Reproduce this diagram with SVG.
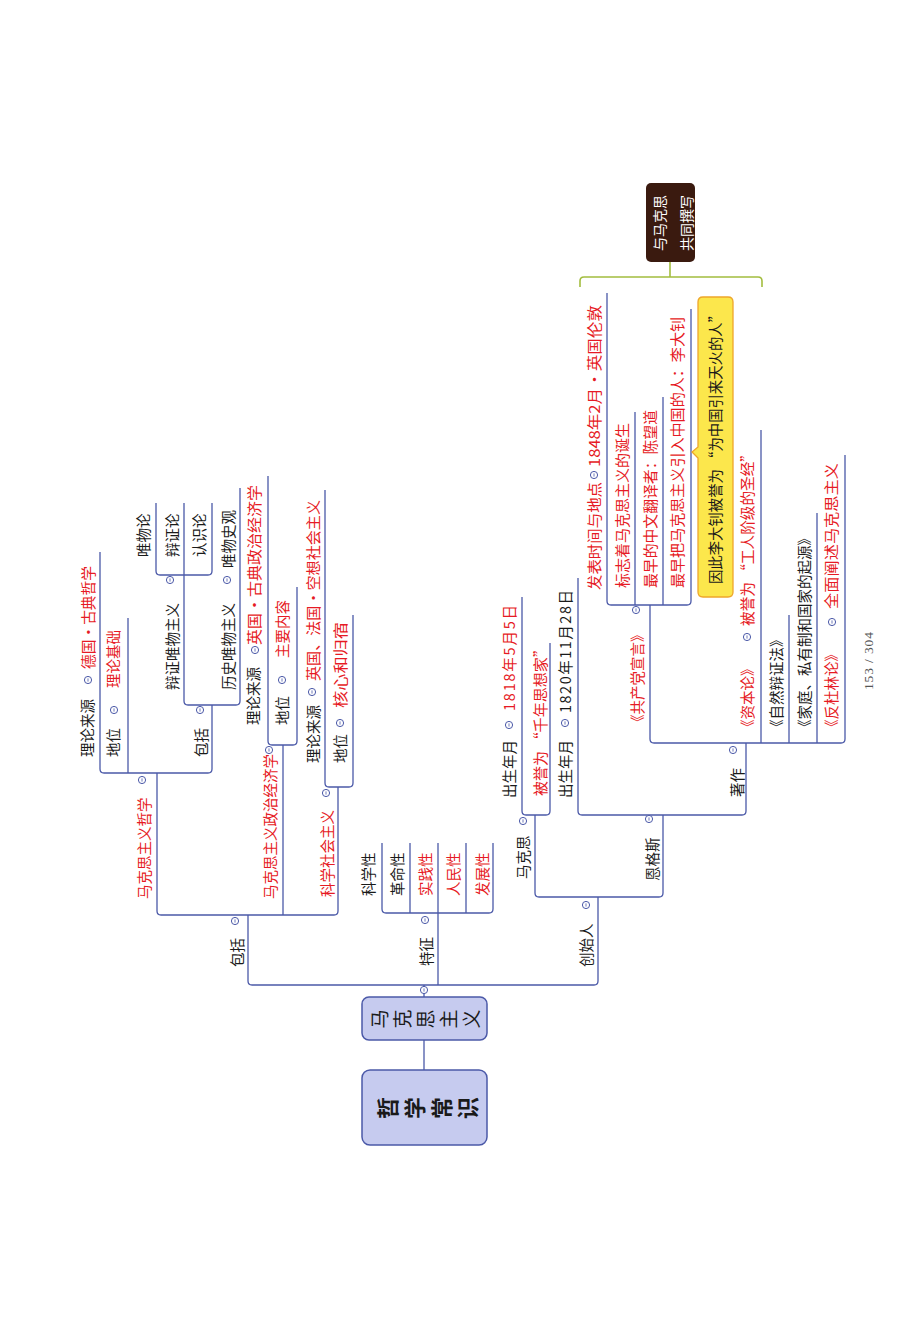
<svg xmlns="http://www.w3.org/2000/svg" xmlns:xlink="http://www.w3.org/1999/xlink" width="920" height="1331" viewBox="0 0 920 1331">
<style>
.t{font-family:"Noto Sans CJK SC","Noto Sans",sans-serif;font-size:14.5px;fill:#1a1a1a}
.r{fill:#e61a24}
.w{fill:#ffffff}
.ln{fill:none;stroke:#4b59a8;stroke-width:1.3}
.box{fill:#c6cbef;stroke:#4b59a8;stroke-width:1.5}
.ch{font-family:"Noto Sans CJK SC","Noto Sans",sans-serif;fill:#1a1a1a}
</style>
<defs>
<g id="cm"><circle r="3.6" fill="#fff" stroke="#4b59a8" stroke-width="1"/><line x1="0" y1="-1.6" x2="0" y2="1.6" stroke="#4b59a8" stroke-width="0.8"/></g>
</defs>
<rect width="920" height="1331" fill="#ffffff"/>

<g id="connectors">
<path class="ln" d="M424,1040 V1070"/>
<path class="ln" d="M424,985 V997"/>
<path class="ln" d="M248,915 V981 Q248,985 252,985 H594 Q598,985 598,981 V897"/>
<path class="ln" d="M438,985 V843"/>
<path class="ln" d="M157,773 V911 Q157,915 161,915 H334 Q338,915 338,911 V787"/>
<path class="ln" d="M283,915 V745"/>
<path class="ln" d="M100,552 V769 Q100,773 104,773 H208 Q212,773 212,769 V705"/>
<path class="ln" d="M128,773 V618"/>
<path class="ln" d="M184,503 V701 Q184,705 188,705 H236 Q240,705 240,701 V488"/>
<path class="ln" d="M156,503 V571 Q156,575 160,575 H208 Q212,575 212,571 V503"/>
<path class="ln" d="M268,476 V741 Q268,745 272,745 H293 Q297,745 297,741 V587"/>
<path class="ln" d="M325,490 V783 Q325,787 329,787 H349 Q353,787 353,783 V615"/>
<path class="ln" d="M382,843 V909 Q382,913 386,913 H489 Q493,913 493,909 V843"/>
<path class="ln" d="M410,913 V843"/>
<path class="ln" d="M466,913 V843"/>
<path class="ln" d="M535,815 V893 Q535,897 539,897 H659 Q663,897 663,893 V815"/>
<path class="ln" d="M522,597 V811 Q522,815 526,815 H546 Q550,815 550,811 V643"/>
<path class="ln" d="M578,578 V811 Q578,815 582,815 H742 Q746,815 746,811 V743"/>
<path class="ln" d="M650,605 V739 Q650,743 654,743 H841 Q845,743 845,739 V455"/>
<path class="ln" d="M761,743 V430"/>
<path class="ln" d="M789,743 V615"/>
<path class="ln" d="M817,743 V513"/>
<path class="ln" d="M607,293 V601 Q607,605 611,605 H687 Q691,605 691,601 V309"/>
<path class="ln" d="M635,605 V412"/>
<path class="ln" d="M663,605 V397"/>
<path d="M580,287 V281 Q580,277 584,277 H758 Q762,277 762,281 V287 M670,277 V262" fill="none" stroke="#a3bd3f" stroke-width="1.6"/>
</g>

<g id="root">
<rect class="box" x="362" y="1070" width="125" height="75" rx="8"/>
<g class="ch" font-size="22" font-weight="bold" text-anchor="middle" dominant-baseline="central">
<text transform="translate(386,1108) rotate(-90)">哲</text>
<text transform="translate(413,1108) rotate(-90)">学</text>
<text transform="translate(440,1108) rotate(-90)">常</text>
<text transform="translate(466,1108) rotate(-90)">识</text>
</g>
</g>

<g id="marxism">
<rect class="box" x="362" y="997" width="125" height="43" rx="7"/>
<g class="ch" font-size="19" text-anchor="middle" dominant-baseline="central">
<text transform="translate(378,1019) rotate(-90)">马</text>
<text transform="translate(401,1019) rotate(-90)">克</text>
<text transform="translate(424,1019) rotate(-90)">思</text>
<text transform="translate(447,1019) rotate(-90)">主</text>
<text transform="translate(470,1019) rotate(-90)">义</text>
</g>
<use xlink:href="#cm" x="424" y="990"/>
</g>

<g id="n-baokuo">
<text class="t" transform="translate(242.5,967) rotate(-90)">包括</text>
<use xlink:href="#cm" x="235" y="921"/>
</g>
<g id="n-zhexue">
<text class="t r" transform="translate(149.5,899) rotate(-90)">马克思主义哲学</text>
<use xlink:href="#cm" x="142" y="780"/>
</g>
<g id="n-zx-source">
<text class="t" transform="translate(92.5,757) rotate(-90)">理论来源</text>
<use xlink:href="#cm" x="88" y="680"/>
<text class="t r" transform="translate(93.5,669) rotate(-90)" textLength="103" lengthAdjust="spacingAndGlyphs">德国•古典哲学</text>
</g>
<g id="n-zx-status">
<text class="t" transform="translate(118.5,757) rotate(-90)">地位</text>
<use xlink:href="#cm" x="114" y="710"/>
<text class="t r" transform="translate(118.5,688) rotate(-90)">理论基础</text>
</g>
<g id="n-zx-include">
<text class="t" transform="translate(206.5,757) rotate(-90)">包括</text>
<use xlink:href="#cm" x="200" y="710"/>
</g>
<g id="n-bianzheng">
<text class="t" transform="translate(177.5,690) rotate(-90)">辩证唯物主义</text>
<use xlink:href="#cm" x="170" y="580"/>
</g>
<g id="n-weiwulun"><text class="t" transform="translate(148.5,557) rotate(-90)">唯物论</text></g>
<g id="n-bianzhenglun"><text class="t" transform="translate(177.5,557) rotate(-90)">辩证论</text></g>
<g id="n-renshilun"><text class="t" transform="translate(204.5,557) rotate(-90)">认识论</text></g>
<g id="n-lishi">
<text class="t" transform="translate(233.5,690) rotate(-90)">历史唯物主义</text>
<use xlink:href="#cm" x="227" y="580"/>
<text class="t" transform="translate(233.5,568) rotate(-90)">唯物史观</text>
</g>
<g id="n-zhengjing">
<text class="t r" transform="translate(275.5,899) rotate(-90)">马克思主义政治经济学</text>
<use xlink:href="#cm" x="269" y="750"/>
</g>
<g id="n-zj-source">
<text class="t" transform="translate(258.5,725) rotate(-90)">理论来源</text>
<use xlink:href="#cm" x="255" y="650"/>
<text class="t r" transform="translate(259.5,645) rotate(-90)" textLength="160" lengthAdjust="spacingAndGlyphs">英国•古典政治经济学</text>
</g>
<g id="n-zj-status">
<text class="t" transform="translate(287.5,725) rotate(-90)">地位</text>
<use xlink:href="#cm" x="282" y="680"/>
<text class="t r" transform="translate(287.5,658) rotate(-90)">主要内容</text>
</g>
<g id="n-kexue">
<text class="t r" transform="translate(332.5,897) rotate(-90)">科学社会主义</text>
<use xlink:href="#cm" x="326" y="793"/>
</g>
<g id="n-kx-source">
<text class="t" transform="translate(318.5,763) rotate(-90)">理论来源</text>
<use xlink:href="#cm" x="312" y="692"/>
<text class="t r" transform="translate(318.5,681) rotate(-90)" textLength="181" lengthAdjust="spacingAndGlyphs">英国、法国•空想社会主义</text>
</g>
<g id="n-kx-status">
<text class="t" transform="translate(345.5,763) rotate(-90)">地位</text>
<use xlink:href="#cm" x="340" y="723"/>
<text class="t r" transform="translate(345.5,708) rotate(-90)" textLength="86" lengthAdjust="spacingAndGlyphs">核心和归宿</text>
</g>

<g id="n-tezheng">
<text class="t" transform="translate(431.5,966) rotate(-90)">特征</text>
<use xlink:href="#cm" x="425" y="920"/>
</g>
<g id="n-kexuexing"><text class="t" transform="translate(373.5,896) rotate(-90)">科学性</text></g>
<g id="n-gemingxing"><text class="t" transform="translate(402.5,896) rotate(-90)">革命性</text></g>
<g id="n-shijianxing"><text class="t r" transform="translate(430.5,896) rotate(-90)">实践性</text></g>
<g id="n-renminxing"><text class="t r" transform="translate(458.5,896) rotate(-90)">人民性</text></g>
<g id="n-fazhanxing"><text class="t r" transform="translate(487.5,896) rotate(-90)">发展性</text></g>

<g id="n-chuangshiren">
<text class="t" transform="translate(591.5,967) rotate(-90)">创始人</text>
<use xlink:href="#cm" x="586" y="905"/>
</g>
<g id="n-marx">
<text class="t" transform="translate(528.5,879) rotate(-90)">马克思</text>
<use xlink:href="#cm" x="523" y="821"/>
</g>
<g id="n-marx-birth">
<text class="t" transform="translate(514.5,798) rotate(-90)">出生年月</text>
<use xlink:href="#cm" x="509" y="725"/>
<text class="t r" transform="translate(514.5,711) rotate(-90)" textLength="106" lengthAdjust="spacing">1818年5月5日</text>
</g>
<g id="n-marx-title">
<text class="t r" transform="translate(545.5,796) rotate(-90)" textLength="154" lengthAdjust="spacingAndGlyphs">被誉为 “千年思想家”</text>
</g>
<g id="n-engels">
<text class="t" transform="translate(657.5,881) rotate(-90)">恩格斯</text>
<use xlink:href="#cm" x="649" y="819"/>
</g>
<g id="n-engels-birth">
<text class="t" transform="translate(570.5,798) rotate(-90)">出生年月</text>
<use xlink:href="#cm" x="565" y="723"/>
<text class="t" transform="translate(570.5,713) rotate(-90)" textLength="123" lengthAdjust="spacing">1820年11月28日</text>
</g>
<g id="n-zhuzuo">
<text class="t" transform="translate(742.5,797) rotate(-90)">著作</text>
<use xlink:href="#cm" x="733" y="750"/>
</g>
<g id="n-manifesto">
<text class="t r" transform="translate(642.5,729) rotate(-90)">《共产党宣言》</text>
<use xlink:href="#cm" x="636" y="610"/>
</g>
<g id="n-mf-time">
<text class="t r" transform="translate(599.5,590) rotate(-90)" textLength="108" lengthAdjust="spacingAndGlyphs">发表时间与地点</text>
<use xlink:href="#cm" x="594" y="475"/>
<text class="t r" transform="translate(599.5,467) rotate(-90)" textLength="162" lengthAdjust="spacingAndGlyphs">1848年2月•英国伦敦</text>
</g>
<g id="n-mf-birth"><text class="t r" transform="translate(627.5,588) rotate(-90)" textLength="165" lengthAdjust="spacingAndGlyphs">标志着马克思主义的诞生</text></g>
<g id="n-mf-translator"><text class="t r" transform="translate(655.5,588) rotate(-90)" textLength="178" lengthAdjust="spacingAndGlyphs">最早的中文翻译者：陈望道</text></g>
<g id="n-mf-lidazhao"><text class="t r" transform="translate(682.5,588) rotate(-90)" textLength="271" lengthAdjust="spacingAndGlyphs">最早把马克思主义引入中国的人：李大钊</text></g>
<g id="n-callout">
<path d="M703,297 H728 Q733,297 733,302 V592 Q733,597 728,597 H703 Q698,597 698,592 V458 L692,452 L698,447 V302 Q698,297 703,297 Z" fill="#fce74c" stroke="#eea62a" stroke-width="1.3"/>
<text class="t" transform="translate(721,584) rotate(-90)" textLength="276" lengthAdjust="spacingAndGlyphs">因此李大钊被誉为 “为中国引来天火的人”</text>
</g>
<g id="n-summary">
<rect x="646" y="183" width="49" height="79" rx="5" fill="#3a1a0f"/>
<g class="ch" font-size="14" text-anchor="middle">
<text class="w" transform="translate(665,223) rotate(-90)">与马克思</text>
<text class="w" transform="translate(692,223) rotate(-90)">共同撰写</text>
</g>
</g>
<g id="n-capital">
<text class="t r" transform="translate(752.5,734) rotate(-90)">《资本论》</text>
<use xlink:href="#cm" x="747" y="637"/>
<text class="t r" transform="translate(752.5,626) rotate(-90)" textLength="179" lengthAdjust="spacingAndGlyphs">被誉为 “工人阶级的圣经”</text>
</g>
<g id="n-nature"><text class="t" transform="translate(781.5,734) rotate(-90)">《自然辩证法》</text></g>
<g id="n-family"><text class="t" transform="translate(809.5,734) rotate(-90)">《家庭、私有制和国家的起源》</text></g>
<g id="n-duhring">
<text class="t r" transform="translate(836.5,734) rotate(-90)">《反杜林论》</text>
<use xlink:href="#cm" x="832" y="622"/>
<text class="t r" transform="translate(836.5,609) rotate(-90)" textLength="146" lengthAdjust="spacingAndGlyphs">全面阐述马克思主义</text>
</g>

<text transform="translate(873,690) rotate(-90)" font-family="Liberation Serif, serif" font-size="13.5" fill="#555" textLength="58" lengthAdjust="spacing">153 / 304</text>
</svg>
